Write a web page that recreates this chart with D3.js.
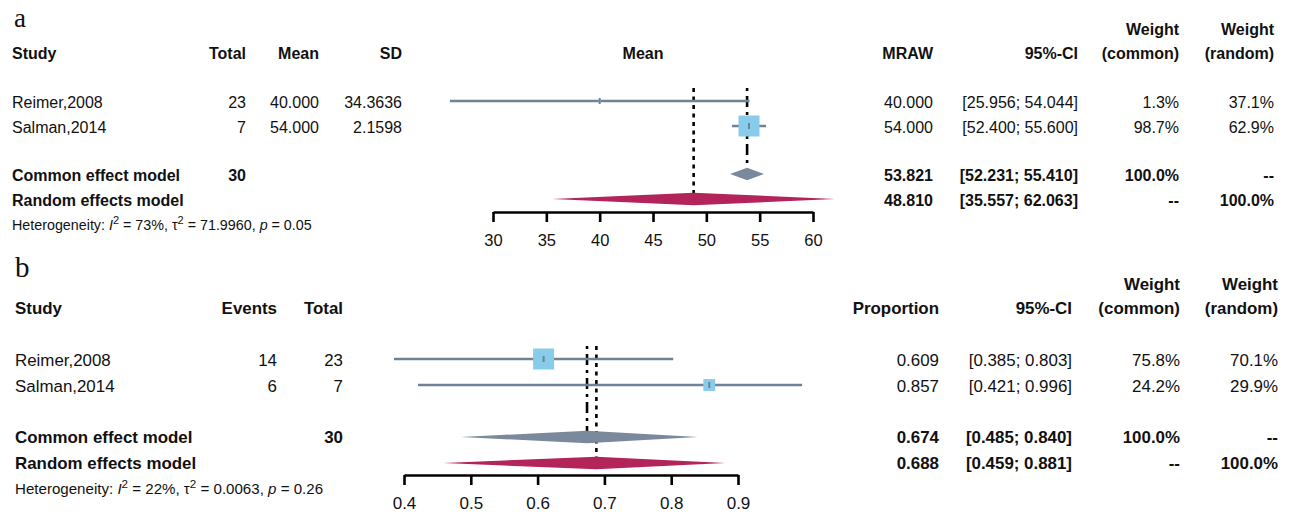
<!DOCTYPE html>
<html>
<head>
<meta charset="utf-8">
<script src="https://cdn.jsdelivr.net/npm/d3@7"></script>
<style>
  body { margin: 0; background: #fff; }
  svg text { font-family: "Liberation Sans", Arial, sans-serif; fill: #111; }
</style>
</head>
<body>
<div id="chart"></div>
<script>
// study names (shared)
const studies = ["Reimer,2008", "Salman,2014"];

// panel a: mean
const aTotal = [23, 7];
const aMean = ["40.000", "54.000"];
const aSD = ["34.3636", "2.1598"];
const aEst = [40.0, 54.0];
const aLower = [25.956, 52.400];
const aUpper = [54.044, 55.600];
const aWCommon = [1.3, 98.7];
const aWRandom = [37.1, 62.9];
const aCommon = [53.821, 52.231, 55.410];
const aRandom = [48.810, 35.557, 62.063];
const aTicks = [30, 35, 40, 45, 50, 55, 60];

// panel b: proportion
const bEvents = [14, 6];
const bTotal = [23, 7];
const bEst = [0.609, 0.857];
const bLower = [0.385, 0.421];
const bUpper = [0.803, 0.996];
const bWCommon = [75.8, 24.2];
const bWRandom = [70.1, 29.9];
const bCommon = [0.674, 0.485, 0.840];
const bRandom = [0.688, 0.459, 0.881];
const bTicks = [0.4, 0.5, 0.6, 0.7, 0.8, 0.9];

const width = 1294, height = 516;
const svg = d3.select("#chart").append("svg")
    .attr("width", width)
    .attr("height", height);

const lineCol = "#6f8394", squareCol = "#88cbea", commonCol = "#7a8a9c", randomCol = "#b3245a";

let fs = 16; // current panel font size

function txt(g, x, y, s, anchor, opts) {
    opts = opts || {};
    return g.append("text")
        .attr("x", x).attr("y", y)
        .attr("text-anchor", anchor || "start")
        .attr("font-size", opts.size || fs)
        .attr("font-weight", opts.bold ? "bold" : "normal")
        .text(s);
}

function heterogeneity(g, x, y, size, i2, tau2, p) {
    const t = g.append("text").attr("x", x).attr("y", y).attr("font-size", size);
    const sup = size * 0.77;
    t.append("tspan").text("Heterogeneity: ");
    t.append("tspan").attr("font-style", "italic").text("I");
    t.append("tspan").attr("dy", -6).attr("font-size", sup).text("2");
    t.append("tspan").attr("dy", 6).text(" = " + i2 + ", \u03c4");
    t.append("tspan").attr("dy", -6).attr("font-size", sup).text("2");
    t.append("tspan").attr("dy", 6).text(" = " + tau2 + ", ");
    t.append("tspan").attr("font-style", "italic").text("p");
    t.append("tspan").text(" = " + p);
}

function fmtCI(lo, hi, d) {
    return "[" + lo.toFixed(d) + "; " + hi.toFixed(d) + "]";
}

function forest(g, p) {
    const x = d3.scaleLinear().domain(p.domain).range(p.range);
    const maxW = d3.max(p.wCommon);
    const size = d3.scaleSqrt().domain([0, maxW]).range([0, p.maxSquare]);

    // reference lines
    g.append("line")
        .attr("x1", x(p.random[0])).attr("x2", x(p.random[0]))
        .attr("y1", p.refTop).attr("y2", p.randomY - 6)
        .attr("stroke", "#000").attr("stroke-width", 2.6)
        .attr("stroke-dasharray", "4,4.5");
    g.append("line")
        .attr("x1", x(p.common[0])).attr("x2", x(p.common[0]))
        .attr("y1", p.refTop).attr("y2", p.commonY - 6)
        .attr("stroke", "#000").attr("stroke-width", 2.6)
        .attr("stroke-dasharray", "3,5,11,5");

    // study CIs and squares
    p.est.forEach((e, i) => {
        const y = p.rowY[i];
        g.append("line")
            .attr("x1", x(p.lower[i])).attr("x2", x(p.upper[i]))
            .attr("y1", y).attr("y2", y)
            .attr("stroke", lineCol).attr("stroke-width", 2.4);
        const s = Math.max(2, size(p.wCommon[i]));
        g.append("rect")
            .attr("x", x(e) - s / 2).attr("y", y - s / 2)
            .attr("width", s).attr("height", s)
            .attr("fill", squareCol);
        g.append("line")
            .attr("x1", x(e)).attr("x2", x(e))
            .attr("y1", y - 3).attr("y2", y + 3)
            .attr("stroke", lineCol).attr("stroke-width", 2);
    });

    // diamonds
    const diamond = (vals, cy, col) => {
        g.append("path")
            .attr("d", d3.line()([
                [x(vals[1]), cy], [x(vals[0]), cy - 6.3],
                [x(vals[2]), cy], [x(vals[0]), cy + 6.3]
            ]) + "Z")
            .attr("fill", col);
    };
    diamond(p.common, p.commonY, commonCol);
    diamond(p.random, p.randomY, randomCol);

    // axis
    const ax = g.append("g")
        .attr("transform", `translate(0,${p.axisY})`)
        .call(d3.axisBottom(x).tickValues(p.ticks).tickSize(10).tickSizeOuter(0)
            .tickFormat(p.tickFmt).tickPadding(12));
    ax.select(".domain").attr("stroke", "#000").attr("stroke-width", 2.6);
    ax.selectAll(".tick line").attr("stroke", "#000").attr("stroke-width", 2.6);
    ax.selectAll(".tick text").attr("font-size", p.tickSize).attr("fill", "#111")
        .attr("font-family", "Liberation Sans, Arial, sans-serif");
}

// ---------- panel a ----------
fs = 16;
const ga = svg.append("g");
ga.append("text").attr("x", 14).attr("y", 27)
    .attr("font-size", 27).style("font-family", "'Liberation Serif', serif").text("a");

txt(ga, 12, 59, "Study", "start", {bold: true});
txt(ga, 246, 59, "Total", "end", {bold: true});
txt(ga, 319, 59, "Mean", "end", {bold: true});
txt(ga, 402, 59, "SD", "end", {bold: true});
txt(ga, 643, 59, "Mean", "middle", {bold: true});
txt(ga, 933, 59, "MRAW", "end", {bold: true});
txt(ga, 1078, 59, "95%-CI", "end", {bold: true});
txt(ga, 1179, 35, "Weight", "end", {bold: true});
txt(ga, 1179, 59, "(common)", "end", {bold: true});
txt(ga, 1274, 35, "Weight", "end", {bold: true});
txt(ga, 1274, 59, "(random)", "end", {bold: true});

const aRows = [108, 133];
studies.forEach((s, i) => {
    txt(ga, 12, aRows[i], s);
    txt(ga, 246, aRows[i], aTotal[i], "end");
    txt(ga, 319, aRows[i], aMean[i], "end");
    txt(ga, 402, aRows[i], aSD[i], "end");
    txt(ga, 933, aRows[i], aEst[i].toFixed(3), "end");
    txt(ga, 1078, aRows[i], fmtCI(aLower[i], aUpper[i], 3), "end");
    txt(ga, 1179, aRows[i], aWCommon[i].toFixed(1) + "%", "end");
    txt(ga, 1274, aRows[i], aWRandom[i].toFixed(1) + "%", "end");
});
txt(ga, 12, 181, "Common effect model", "start", {bold: true});
txt(ga, 246, 181, d3.sum(aTotal), "end", {bold: true});
txt(ga, 933, 181, aCommon[0].toFixed(3), "end", {bold: true});
txt(ga, 1078, 181, fmtCI(aCommon[1], aCommon[2], 3), "end", {bold: true});
txt(ga, 1179, 181, "100.0%", "end", {bold: true});
txt(ga, 1274, 181, "--", "end", {bold: true});
txt(ga, 12, 206, "Random effects model", "start", {bold: true});
txt(ga, 933, 206, aRandom[0].toFixed(3), "end", {bold: true});
txt(ga, 1078, 206, fmtCI(aRandom[1], aRandom[2], 3), "end", {bold: true});
txt(ga, 1179, 206, "--", "end", {bold: true});
txt(ga, 1274, 206, "100.0%", "end", {bold: true});
heterogeneity(ga, 12, 230, 14.3, "73%", "71.9960", "0.05");

forest(ga, {
    domain: [30, 60], range: [493, 813], ticks: aTicks, tickFmt: d3.format("d"),
    est: aEst, lower: aLower, upper: aUpper, wCommon: aWCommon,
    common: aCommon, random: aRandom, rowY: [101, 126],
    commonY: 174, randomY: 199, axisY: 212, refTop: 88, maxSquare: 21, tickSize: 16.5
});

// ---------- panel b ----------
fs = 16.9;
const gb = svg.append("g");
gb.append("text").attr("x", 15).attr("y", 277)
    .attr("font-size", 29).style("font-family", "'Liberation Serif', serif").text("b");

txt(gb, 15, 314, "Study", "start", {bold: true});
txt(gb, 277, 314, "Events", "end", {bold: true});
txt(gb, 343, 314, "Total", "end", {bold: true});
txt(gb, 939, 314, "Proportion", "end", {bold: true});
txt(gb, 1072, 314, "95%-CI", "end", {bold: true});
txt(gb, 1180, 290, "Weight", "end", {bold: true});
txt(gb, 1180, 314, "(common)", "end", {bold: true});
txt(gb, 1278, 290, "Weight", "end", {bold: true});
txt(gb, 1278, 314, "(random)", "end", {bold: true});

const bRows = [366, 392];
studies.forEach((s, i) => {
    txt(gb, 15, bRows[i], s);
    txt(gb, 277, bRows[i], bEvents[i], "end");
    txt(gb, 343, bRows[i], bTotal[i], "end");
    txt(gb, 939, bRows[i], bEst[i].toFixed(3), "end");
    txt(gb, 1072, bRows[i], fmtCI(bLower[i], bUpper[i], 3), "end");
    txt(gb, 1180, bRows[i], bWCommon[i].toFixed(1) + "%", "end");
    txt(gb, 1278, bRows[i], bWRandom[i].toFixed(1) + "%", "end");
});
txt(gb, 15, 443, "Common effect model", "start", {bold: true});
txt(gb, 343, 443, d3.sum(bTotal), "end", {bold: true});
txt(gb, 939, 443, bCommon[0].toFixed(3), "end", {bold: true});
txt(gb, 1072, 443, fmtCI(bCommon[1], bCommon[2], 3), "end", {bold: true});
txt(gb, 1180, 443, "100.0%", "end", {bold: true});
txt(gb, 1278, 443, "--", "end", {bold: true});
txt(gb, 15, 469, "Random effects model", "start", {bold: true});
txt(gb, 939, 469, bRandom[0].toFixed(3), "end", {bold: true});
txt(gb, 1072, 469, fmtCI(bRandom[1], bRandom[2], 3), "end", {bold: true});
txt(gb, 1180, 469, "--", "end", {bold: true});
txt(gb, 1278, 469, "100.0%", "end", {bold: true});
heterogeneity(gb, 15, 494, 15.1, "22%", "0.0063", "0.26");

forest(gb, {
    domain: [0.4, 0.9], range: [404, 738], ticks: bTicks, tickFmt: d3.format(".1f"),
    est: bEst, lower: bLower, upper: bUpper, wCommon: bWCommon,
    common: bCommon, random: bRandom, rowY: [359, 385],
    commonY: 437, randomY: 463, axisY: 475, refTop: 346, maxSquare: 21, tickSize: 17
});
</script>
</body>
</html>
